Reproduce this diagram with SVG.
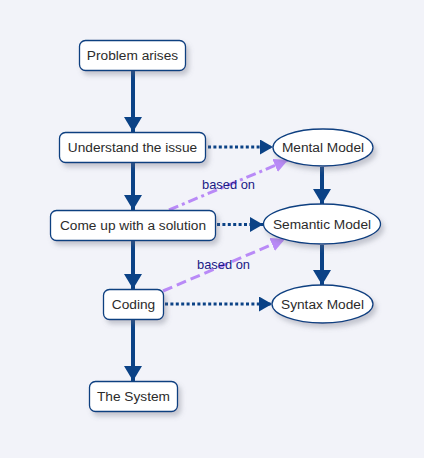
<svg xmlns="http://www.w3.org/2000/svg" width="424" height="458" viewBox="0 0 424 458">
<style>
.box{fill:#ffffff;stroke:#0e3f80;stroke-width:1.3;filter:url(#sh)}
.t{font-family:"Liberation Sans",Arial,sans-serif;font-size:13.7px;fill:#2b2b2b;text-anchor:middle;dominant-baseline:central}
.lbl{font-family:"Liberation Sans",Arial,sans-serif;font-size:12.9px;fill:#1a1a86;text-anchor:middle}
.main{stroke:#0b4286;stroke-width:4;fill:none;marker-end:url(#ah)}
.dot{stroke:#0b4286;stroke-width:3;fill:none;stroke-dasharray:3 2.4;marker-end:url(#ahs)}
.pur{stroke:#b98af7;stroke-width:3;fill:none;marker-end:url(#ahp)}
</style>
<defs>
<filter id="sh" x="-20%" y="-30%" width="150%" height="180%">
<feDropShadow dx="3" dy="4" stdDeviation="2.5" flood-color="#6a7080" flood-opacity="0.35"/>
</filter>
<marker id="ah" markerUnits="userSpaceOnUse" markerWidth="18" markerHeight="18" refX="15" refY="9" orient="auto">
<path d="M0,0 L15,9 L0,18 z" fill="#0b4286"/>
</marker>
<marker id="ahs" markerUnits="userSpaceOnUse" markerWidth="14" markerHeight="16" refX="13" refY="7.5" orient="auto">
<path d="M0,0 L13,7.5 L0,15 z" fill="#0b4286"/>
</marker>
<marker id="ahp" markerUnits="userSpaceOnUse" markerWidth="16" markerHeight="16" refX="14" refY="7" orient="auto">
<path d="M0,0 L14,7 L0,14 z" fill="#b98af7"/>
</marker>
</defs>
<rect x="0" y="0" width="424" height="458" fill="#f2f3f9"/>
<g id="connectors">
<line class="main" x1="133" y1="70" x2="133" y2="132"/>
<line class="main" x1="133" y1="162" x2="133" y2="210"/>
<line class="main" x1="133" y1="240" x2="133" y2="289"/>
<line class="main" x1="133" y1="319" x2="133" y2="381"/>
<line class="main" x1="322" y1="167" x2="322" y2="204"/>
<line class="main" x1="322" y1="245" x2="322" y2="285"/>
<line class="dot" x1="208" y1="147" x2="273" y2="147"/>
<line class="dot" x1="217" y1="224.5" x2="263" y2="224.5"/>
<line class="dot" x1="165" y1="304" x2="272" y2="304"/>
<line class="pur" x1="169" y1="210" x2="288" y2="160" style="stroke-dasharray:10 4 3 4"/>
<line class="pur" x1="163" y1="291" x2="285" y2="239" style="stroke-dasharray:10 5"/>
<text class="lbl" x="228.5" y="189">based on</text>
<text class="lbl" x="223.5" y="269">based on</text>
</g>
<g id="problem"><rect class="box" x="79.5" y="40.5" width="106" height="30" rx="6"/><text class="t" x="132.5" y="55.5">Problem arises</text></g>
<g id="understand"><rect class="box" x="59.5" y="132.5" width="146" height="30" rx="6"/><text class="t" x="132.5" y="147.5">Understand the issue</text></g>
<g id="solution"><rect class="box" x="50.5" y="210.5" width="165" height="30" rx="6"/><text class="t" x="133" y="225.5">Come up with a solution</text></g>
<g id="coding"><rect class="box" x="103.5" y="289.5" width="60" height="30" rx="6"/><text class="t" x="133.5" y="304">Coding</text></g>
<g id="system"><rect class="box" x="89.5" y="381.5" width="88" height="30" rx="6"/><text class="t" x="133.5" y="396">The System</text></g>
<g id="mental"><ellipse class="box" cx="323" cy="147.5" rx="50" ry="18.5"/><text class="t" x="323" y="147.5">Mental Model</text></g>
<g id="semantic"><ellipse class="box" cx="322" cy="224" rx="58.5" ry="20"/><text class="t" x="322" y="224">Semantic Model</text></g>
<g id="syntax"><ellipse class="box" cx="322.5" cy="304" rx="50.5" ry="19"/><text class="t" x="322.5" y="304">Syntax Model</text></g>
</svg>
